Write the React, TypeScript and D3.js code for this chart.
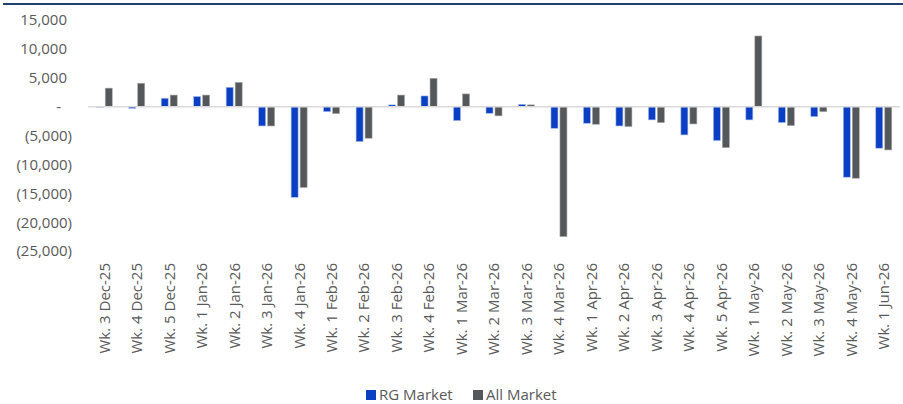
import React, { useEffect, useRef } from "react";
import * as d3 from "d3";

const weeks = [
  "Wk. 3 Dec-25", "Wk. 4 Dec-25", "Wk. 5 Dec-25", "Wk. 1 Jan-26", "Wk. 2 Jan-26",
  "Wk. 3 Jan-26", "Wk. 4 Jan-26", "Wk. 1 Feb-26", "Wk. 2 Feb-26", "Wk. 3 Feb-26",
  "Wk. 4 Feb-26", "Wk. 1 Mar-26", "Wk. 2 Mar-26", "Wk. 3 Mar-26", "Wk. 4 Mar-26",
  "Wk. 1 Apr-26", "Wk. 2 Apr-26", "Wk. 3 Apr-26", "Wk. 4 Apr-26", "Wk. 5 Apr-26",
  "Wk. 1 May-26", "Wk. 2 May-26", "Wk. 3 May-26", "Wk. 4 May-26", "Wk. 1 Jun-26",
];

const rgMarket = [
  -100, -300, 1450, 1750, 3350, -3350, -15700, -870, -6050, 300,
  1850, -2420, -1150, 400, -3750, -2880, -3350, -2300, -4900, -5880,
  -2300, -2770, -1730, -12220, -7200,
];

const allMarket = [
  3200, 4050, 2000, 2000, 4200, -3350, -14000, -1200, -5470, 2000,
  4900, 2200, -1600, 300, -22500, -3050, -3450, -2770, -3000, -7100,
  12230, -3280, -870, -12400, -7500,
];

const yTicks = [15000, 10000, 5000, 0, -5000, -10000, -15000, -20000, -25000];

const seriesNames = ["RG Market", "All Market"];
const seriesColors = ["#0a3fc4", "#54585a"];

const font = "'Open Sans', sans-serif";
const textColor = "#595959";

const App = () => {
  const chartRef = useRef<HTMLDivElement>(null);

  useEffect(() => {
    const element = chartRef.current;
    if (!element) return;
    const width = 903;
    const height = 404;

    d3.select(element).select("svg").remove();
    const svg = d3
      .select(element)
      .append("svg")
      .attr("width", width)
      .attr("height", height)
      .style("display", "block");

    // top border line
    svg
      .append("line")
      .attr("x1", 3)
      .attr("x2", width)
      .attr("y1", 4)
      .attr("y2", 4)
      .attr("stroke", "#1f3f6e")
      .attr("stroke-width", 2);

    const x = d3.scaleBand().domain(weeks).range([88, 900]);
    const y = d3.scaleLinear().domain([-25000, 15000]).range([251, 20]);
    const fmt = d3.format(",");

    // y labels (accounting style)
    svg
      .append("g")
      .selectAll("text")
      .data(yTicks)
      .enter()
      .append("text")
      .attr("x", (d) => (d < 0 ? 72 : d === 0 ? 61 : 67))
      .attr("y", (d) => y(d))
      .attr("dy", "0.36em")
      .attr("text-anchor", "end")
      .style("font-family", font)
      .style("font-size", "15px")
      .style("fill", textColor)
      .text((d) => (d === 0 ? "-" : d < 0 ? `(${fmt(-d)})` : fmt(d)));

    const bw = 7;
    const series = [rgMarket, allMarket];
    series.forEach((vals, si) => {
      svg
        .append("g")
        .selectAll("rect")
        .data(vals)
        .enter()
        .append("rect")
        .attr("x", (d, i) => x(weeks[i])! + x.bandwidth() / 2 - 8 + si * 9)
        .attr("y", (d) => y(Math.max(0, d)))
        .attr("width", bw)
        .attr("height", (d) => Math.abs(y(d) - y(0)))
        .attr("fill", seriesColors[si])
        .attr("stroke", si === 0 ? "#a9baf0" : "#a6a8aa")
        .attr("stroke-width", 0.6);
    });

    // zero line
    svg
      .append("line")
      .attr("x1", 88)
      .attr("x2", 900)
      .attr("y1", y(0))
      .attr("y2", y(0))
      .attr("stroke", "#d9d9d9")
      .attr("stroke-width", 1.5);

    // x labels
    svg
      .append("g")
      .selectAll("text")
      .data(weeks)
      .enter()
      .append("text")
      .attr("transform", (d) => `translate(${x(d)! + x.bandwidth() / 2},263) rotate(-90)`)
      .attr("dy", "0.36em")
      .attr("text-anchor", "end")
      .style("font-family", font)
      .style("font-size", "15px")
      .style("fill", textColor)
      .text((d) => d);

    // legend
    const legendX = [366, 473];
    const legend = svg
      .append("g")
      .selectAll("g")
      .data(seriesNames)
      .enter()
      .append("g")
      .attr("transform", (d, i) => `translate(${legendX[i]},390)`);
    legend
      .append("rect")
      .attr("width", 10)
      .attr("height", 10)
      .attr("fill", (d, i) => seriesColors[i]);
    legend
      .append("text")
      .attr("x", 13)
      .attr("y", 10)
      .style("font-family", font)
      .style("font-size", "15px")
      .style("fill", textColor)
      .text((d) => d);
  }, []);

  return (
    <div style={{ position: "absolute", left: 0, top: 0 }}>
      <div ref={chartRef}></div>
    </div>
  );
};

export default App;
